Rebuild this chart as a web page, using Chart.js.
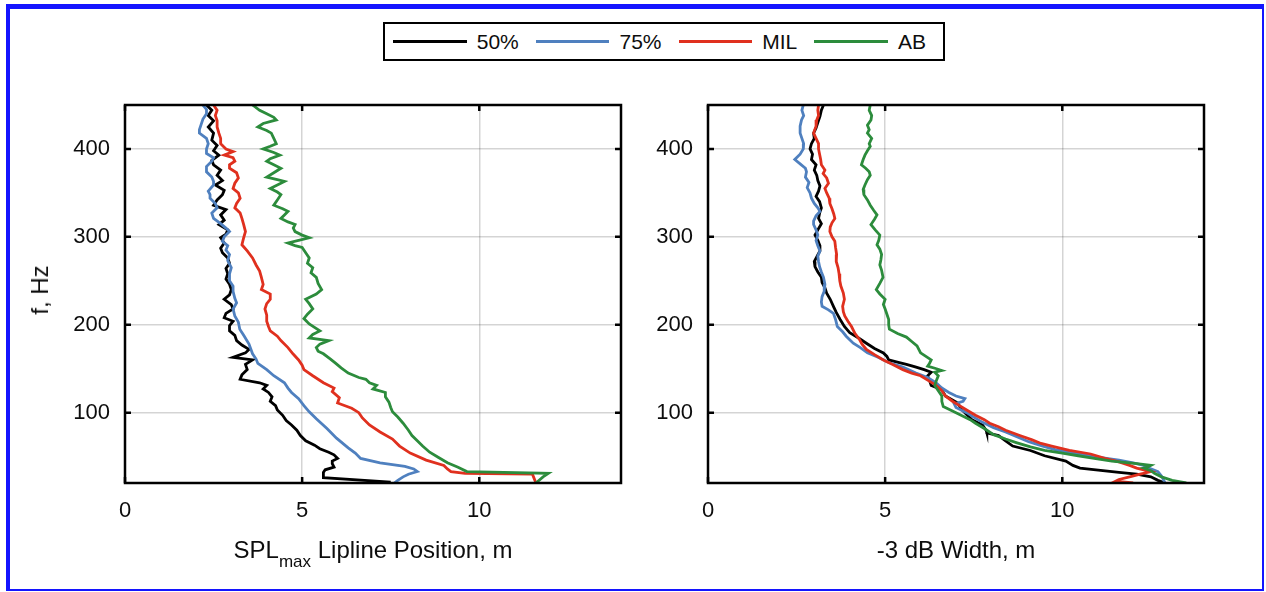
<!DOCTYPE html>
<html>
<head>
<meta charset="utf-8">
<script src="https://cdn.jsdelivr.net/npm/chart.js@4.4.1/dist/chart.umd.min.js"></script>
<style>
  html, body { margin: 0; padding: 0; background: #fff; }
  body { width: 1266px; height: 592px; position: relative; overflow: hidden; font-family: 'Liberation Sans', Arial, sans-serif; color: #0d0d0d; }
  #frame { position: absolute; left: 6px; top: 4px; width: 1258px; height: 587px; box-sizing: border-box;
           border-style: solid; border-color: #1414ff; border-width: 5px 2px 2px 4px; }
  canvas { position: absolute; top: 0; }
  #legend { position: absolute; left: 383px; top: 22px; width: 562px; height: 39px; box-sizing: border-box;
            border: 2.5px solid #000; display: flex; align-items: center; padding-left: 8px; font-size: 21px; }
  #legend .ln { display: inline-block; width: 76px; height: 2.8px; margin-right: 10px; }
  #legend .tx { margin-right: 17px; }
  .xtitle { position: absolute; top: 536px; width: 496px; text-align: center; font-size: 24px; }
  .xtitle sub { font-size: 17px; vertical-align: -9px; }
  #ytitle { position: absolute; left: 40px; top: 290px; font-size: 24px; white-space: nowrap;
            transform: translate(-50%, -50%) rotate(-90deg); }
</style>
</head>
<body>
<div id="frame"></div>
<div id="legend"></div>
<canvas id="lip" width="640" height="592" style="left:0"></canvas>
<canvas id="wid" width="626" height="592" style="left:640px"></canvas>
<div id="ytitle">f, Hz</div>
<div class="xtitle" style="left:125px">SPL<sub>max</sub> Lipline Position, m</div>
<div class="xtitle" style="left:708px">-3 dB Width, m</div>
<script>
// series names and colours
const seriesNames = ['50%', '75%', 'MIL', 'AB'];
const seriesColors = ['#000000', '#4f80bf', '#e0301e', '#2c8c3c'];

// tick values
const xTicks = [0, 5, 10];
const yTicks = [100, 200, 300, 400];

// left panel: [frequency Hz, SPLmax lipline position m]
const lip50 = [[450,2.3],[444,2.45],[438,2.35],[432,2.5],[425,2.35],[418,2.5],[410,2.45],[404,2.6],[398,2.5],[393,2.65],
  [387,2.45],[382,2.5],[376,2.7],[370,2.6],[364,2.75],[359,2.55],[353,2.8],[348,2.75],[342,2.6],[336,2.5],
  [331,2.85],[325,2.7],[319,2.8],[314,2.65],[308,2.9],[303,2.85],[299,2.7],[293,2.8],[287,2.7],[282,2.75],
  [276,2.9],[270,2.95],[264,2.85],[258,2.9],[252,2.85],[246,2.95],[240,3.0],[234,2.95],[229,2.8],[223,3.0],
  [218,3.05],[213,2.85],[208,2.8],[204,3.05],[199,2.95],[193,2.95],[188,3.1],[182,3.15],[177,3.3],[172,3.5],
  [168,3.4],[163,3.05],[160,3.6],[155,3.4],[149,3.45],[143,3.3],[138,3.25],[134,3.8],[131,4.0],[127,3.9],
  [123,4.05],[118,4.15],[113,4.1],[108,4.25],[103,4.3],[97,4.45],[91,4.55],[86,4.7],[80,4.85],[74,4.95],
  [68,5.1],[63,5.35],[59,5.5],[55,5.75],[52,5.9],[48,6.0],[45,5.85],[42,5.85],[38,5.9],[35,5.65],
  [32,5.6],[26,5.6],[21,7.5]];
const lip75 = [[450,2.2],[445,2.3],[440,2.3],[434,2.2],[428,2.15],[422,2.1],[418,2.1],[412,2.3],[406,2.35],[400,2.3],
  [395,2.3],[390,2.5],[386,2.45],[380,2.3],[374,2.3],[368,2.45],[363,2.5],[359,2.5],[352,2.35],[348,2.4],
  [344,2.4],[338,2.55],[333,2.6],[327,2.45],[321,2.5],[315,2.7],[310,2.85],[306,2.95],[300,2.8],[295,2.75],
  [290,2.9],[285,2.85],[280,2.95],[273,2.9],[265,3.0],[258,2.95],[250,2.95],[244,3.05],[238,3.05],[230,3.1],
  [225,3.15],[218,3.05],[210,3.1],[203,3.2],[195,3.24],[188,3.35],[178,3.5],[167,3.6],[161,3.7],[156,3.75],
  [149,4.0],[142,4.2],[134,4.5],[128,4.6],[123,4.7],[116,4.9],[108,5.05],[101,5.2],[93,5.4],[82,5.7],
  [71,5.97],[60,6.3],[54,6.5],[48,6.65],[43,7.2],[39,7.9],[36,8.15],[33,8.25],[30,8.0],[27,7.85],
  [23,7.7],[20,7.6]];
const lipMil = [[450,2.5],[444,2.6],[438,2.55],[432,2.6],[425,2.6],[418,2.65],[412,2.7],[406,2.7],[400,2.85],[397,3.05],
  [393,2.8],[390,3.05],[386,3.1],[382,2.95],[378,2.95],[373,3.15],[367,3.2],[361,3.1],[355,3.05],[350,3.2],
  [344,3.25],[338,3.15],[333,3.1],[327,3.25],[321,3.3],[314,3.35],[306,3.4],[299,3.35],[291,3.3],[284,3.45],
  [276,3.6],[268,3.7],[261,3.8],[254,3.85],[246,3.9],[240,3.85],[235,4.1],[229,4.1],[224,4.0],[218,3.95],
  [211,4.0],[204,4.0],[198,4.05],[193,4.1],[187,4.3],[182,4.4],[174,4.6],[167,4.74],[160,4.9],[154,5.0],
  [149,5.05],[142,5.3],[134,5.6],[128,5.9],[124,5.85],[117,6.05],[111,6.0],[105,6.4],[100,6.6],[94,6.7],
  [86,6.9],[78,7.2],[70,7.55],[62,7.75],[54,8.05],[46,8.5],[40,9.0],[36,9.1],[33,9.2],[31,9.6],
  [30,11.5],[20,11.6]];
const lipAb = [[450,3.6],[444,3.8],[440,4.0],[436,4.2],[433,4.27],[429,3.9],[425,3.75],[421,4.0],[418,4.13],[412,4.2],
  [406,4.27],[403,4.1],[400,3.9],[396,4.2],[393,4.37],[389,4.1],[386,4.0],[382,4.2],[378,4.4],[373,4.2],
  [368,4.0],[365,4.3],[363,4.5],[359,4.3],[355,4.1],[351,4.3],[348,4.4],[342,4.3],[336,4.2],[332,4.45],
  [329,4.6],[325,4.5],[321,4.4],[317,4.6],[314,4.8],[310,4.75],[306,4.8],[302,5.0],[299,5.2],[296,4.9],
  [293,4.6],[290,4.8],[288,5.0],[282,5.1],[276,5.2],[270,5.15],[265,5.3],[259,5.25],[254,5.4],[247,5.45],
  [240,5.55],[235,5.4],[229,5.1],[224,5.2],[218,5.3],[212,5.15],[207,5.05],[201,5.2],[197,5.35],[193,5.5],
  [189,5.3],[185,5.2],[182,5.75],[178,5.5],[174,5.4],[170,5.45],[167,5.6],[161,5.8],[156,5.95],[151,6.1],
  [145,6.3],[140,6.6],[138,6.8],[134,6.9],[131,7.1],[127,7.0],[123,7.35],[118,7.35],[112,7.45],[106,7.5],
  [101,7.55],[95,7.7],[88,7.85],[80,8.0],[74,8.1],[68,8.25],[62,8.4],[55,8.6],[49,8.85],[43,9.1],
  [38,9.4],[33,9.65],[31,11.95],[27,11.8],[20,11.6]];

// right panel: [frequency Hz, -3 dB width m]
const wid50 = [[450,3.26],[444,3.2],[437,3.16],[430,3.1],[424,3.05],[418,2.98],[412,3.0],[406,2.92],[400,2.88],[394,2.95],
  [388,2.92],[382,3.05],[376,3.0],[370,3.07],[364,3.1],[358,3.16],[352,3.12],[346,3.05],[340,3.15],[333,3.2],
  [327,3.15],[321,3.12],[315,3.2],[308,3.1],[302,3.02],[296,3.1],[290,3.16],[284,3.16],[278,3.08],[272,3.0],
  [266,3.02],[260,3.1],[254,3.2],[248,3.22],[242,3.3],[236,3.35],[229,3.45],[221,3.54],[214,3.62],[206,3.73],
  [198,3.85],[191,4.0],[185,4.25],[179,4.47],[173,4.7],[168,4.95],[164,5.05],[160,5.1],[157,5.4],[155,5.6],
  [152,5.85],[149,6.1],[146,6.3],[142,6.2],[137,6.25],[131,6.3],[126,6.6],[119,6.7],[111,7.05],[104,7.15],
  [98,7.3],[92,7.45],[86,7.75],[80,7.85],[77,7.87],[74,8.2],[68,8.4],[62,8.6],[57,9.1],[51,9.5],
  [45,10.1],[40,10.3],[37,10.5],[35,10.95],[32,11.6],[30,12.1],[27,12.5],[23,12.7],[20,12.9]];
const wid75 = [[450,2.69],[444,2.65],[438,2.7],[433,2.64],[426,2.6],[418,2.6],[412,2.65],[406,2.7],[400,2.69],[394,2.6],
  [388,2.45],[383,2.6],[378,2.75],[374,2.78],[368,2.75],[362,2.85],[356,2.8],[350,2.88],[344,2.92],[338,3.0],
  [333,3.1],[329,3.16],[324,3.05],[318,2.98],[314,2.98],[308,3.05],[302,3.1],[296,3.05],[290,3.1],[284,3.16],
  [278,3.1],[272,3.12],[266,3.15],[260,3.2],[254,3.26],[246,3.3],[238,3.28],[232,3.22],[226,3.2],[221,3.22],
  [217,3.4],[213,3.54],[206,3.6],[198,3.65],[192,3.8],[187,3.9],[183,4.0],[179,4.1],[174,4.3],[168,4.5],
  [163,4.8],[157,5.1],[152,5.5],[145,5.87],[140,6.2],[134,6.44],[128,6.6],[123,6.8],[119,7.0],[116,7.25],
  [113,7.2],[110,6.95],[106,7.0],[100,7.3],[95,7.5],[89,7.75],[83,8.06],[78,8.4],[73,8.7],[67,9.05],
  [62,9.45],[58,9.8],[55,10.2],[50,10.9],[46,11.6],[43,12.0],[40,12.3],[36,12.5],[33,12.7],[28,12.8],
  [24,12.85],[20,12.9]];
const widMil = [[450,3.12],[444,3.1],[438,3.12],[433,3.07],[426,3.05],[418,2.98],[412,3.05],[406,3.12],[400,3.12],[394,3.15],
  [388,3.18],[382,3.2],[376,3.3],[372,3.25],[367,3.35],[361,3.4],[355,3.3],[350,3.35],[344,3.42],[338,3.44],
  [332,3.5],[326,3.55],[321,3.58],[316,3.5],[311,3.45],[306,3.44],[300,3.5],[295,3.58],[288,3.6],[280,3.63],
  [272,3.62],[265,3.67],[258,3.7],[250,3.72],[244,3.75],[236,3.82],[229,3.85],[221,3.8],[215,3.82],[210,3.86],
  [204,3.95],[198,4.05],[190,4.15],[183,4.28],[178,4.35],[172,4.47],[166,4.7],[160,4.95],[155,5.2],[149,5.5],
  [145,5.75],[142,6.0],[137,6.2],[131,6.44],[125,6.6],[119,6.7],[113,6.9],[108,7.1],[103,7.3],[97,7.55],
  [92,7.8],[88,7.95],[84,8.2],[80,8.4],[74,8.8],[69,9.15],[65,9.4],[62,9.7],[57,10.2],[53,10.8],
  [48,11.2],[44,11.6],[40,11.9],[37,12.1],[35,12.3],[33,12.5],[30,12.2],[27,11.9],[24,11.6],[22,11.5],
  [20,12.0]];
const widAb = [[450,4.58],[444,4.55],[438,4.62],[433,4.6],[427,4.5],[422,4.55],[418,4.5],[412,4.62],[406,4.55],[403,4.58],
  [398,4.5],[393,4.43],[388,4.38],[382,4.33],[378,4.45],[374,4.55],[370,4.58],[365,4.5],[359,4.43],[354,4.38],
  [348,4.4],[342,4.5],[336,4.58],[330,4.68],[325,4.77],[320,4.7],[314,4.6],[308,4.72],[302,4.85],[296,4.82],
  [291,4.77],[286,4.85],[280,4.9],[274,4.88],[268,4.85],[262,4.9],[254,4.94],[247,4.85],[240,4.75],[235,4.85],
  [229,5.0],[223,4.95],[218,5.0],[212,5.05],[206,5.1],[200,5.1],[195,5.12],[190,5.35],[186,5.6],[181,5.75],
  [176,5.9],[172,5.95],[168,6.0],[164,6.15],[160,6.3],[156,6.25],[153,6.2],[150,6.45],[148,6.6],[146,6.4],
  [142,6.5],[137,6.45],[131,6.4],[125,6.5],[119,6.6],[113,6.6],[107,6.64],[102,6.9],[96,7.2],[92,7.4],
  [88,7.55],[82,7.8],[75,8.06],[70,8.4],[66,8.7],[61,9.1],[57,9.5],[54,10.0],[51,10.45],[48,10.9],
  [45,11.4],[42,12.1],[40,12.5],[38,12.4],[37,12.3],[34,12.5],[31,12.6],[27,12.8],[23,13.1],[20,13.5]];

// legend
const legend = document.getElementById('legend');
seriesNames.forEach((name, i) => {
  const ln = document.createElement('span');
  ln.className = 'ln';
  ln.style.background = seriesColors[i];
  const tx = document.createElement('span');
  tx.className = 'tx';
  tx.textContent = name;
  legend.appendChild(ln);
  legend.appendChild(tx);
});

Chart.defaults.font.family = "'Liberation Sans', Arial, sans-serif";
Chart.defaults.font.size = 22;
Chart.defaults.color = '#0d0d0d';

// black box round the plot with inward ticks on all four sides
const plotBox = {
  id: 'plotBox',
  afterDatasetsDraw(chart) {
    const { ctx, chartArea: a, scales: { x, y } } = chart;
    ctx.save();
    ctx.strokeStyle = '#000';
    ctx.lineWidth = 2.5;
    ctx.beginPath();
    x.ticks.forEach(t => {
      const px = x.getPixelForValue(t.value);
      ctx.moveTo(px, a.bottom); ctx.lineTo(px, a.bottom - 6);
      ctx.moveTo(px, a.top); ctx.lineTo(px, a.top + 6);
    });
    y.ticks.forEach(t => {
      const py = y.getPixelForValue(t.value);
      ctx.moveTo(a.left, py); ctx.lineTo(a.left + 6, py);
      ctx.moveTo(a.right, py); ctx.lineTo(a.right - 6, py);
    });
    ctx.stroke();
    ctx.strokeRect(a.left, a.top, a.right - a.left, a.bottom - a.top);
    ctx.restore();
  }
};

function makeChart(id, series, yWidth, rightPad) {
  const datasets = series.map((pts, i) => ({
    label: seriesNames[i],
    data: pts.map(p => ({ x: p[1], y: p[0] })),
    borderColor: seriesColors[i],
    borderWidth: 2.8,
    pointRadius: 0,
    showLine: true,
    fill: false,
    tension: 0,
    order: 4 - i
  }));
  return new Chart(document.getElementById(id), {
    type: 'scatter',
    data: { datasets },
    options: {
      responsive: false,
      animation: false,
      events: [],
      layout: { padding: { left: 0, top: 105, right: rightPad, bottom: 0 } },
      plugins: { legend: { display: false }, tooltip: { enabled: false } },
      scales: {
        x: {
          type: 'linear', min: 0, max: 14,
          afterBuildTicks: s => { s.ticks = xTicks.map(v => ({ value: v })); },
          afterFit: s => { s.height = 109; },
          ticks: { padding: 15, callback: v => String(v) },
          grid: { color: 'rgba(0,0,0,0.17)', lineWidth: 1.5, drawTicks: false },
          border: { display: false }
        },
        y: {
          type: 'linear', min: 20, max: 450,
          afterBuildTicks: s => { s.ticks = yTicks.map(v => ({ value: v })); },
          afterFit: s => { s.width = yWidth; },
          ticks: { padding: 15, callback: v => String(v) },
          grid: { color: 'rgba(0,0,0,0.17)', lineWidth: 1.5, drawTicks: false },
          border: { display: false }
        }
      }
    },
    plugins: [plotBox]
  });
}

makeChart('lip', [lip50, lip75, lipMil, lipAb], 125, 19);
makeChart('wid', [wid50, wid75, widMil, widAb], 68, 62);
</script>
</body>
</html>
